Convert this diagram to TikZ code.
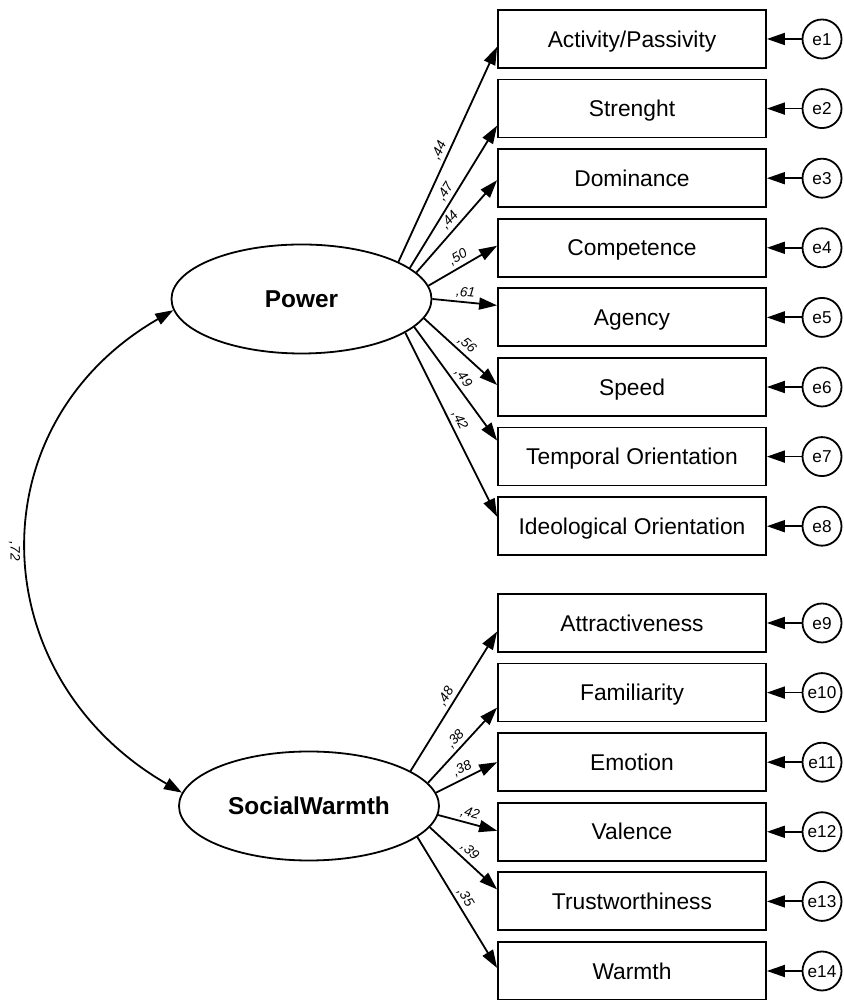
\documentclass[tikz,border=0pt]{standalone}
\usepackage{fontspec}
\setmainfont{Liberation Sans}
\usepackage{tikz}
\usetikzlibrary{shapes,arrows.meta}
\tikzstyle{block} = [rectangle, draw, line width=0.9pt, text height=8.2pt, text depth=0pt,
    minimum width=134pt, minimum height=29pt, inner sep=0pt, font=\fontsize{11.4}{13}\selectfont]
\tikzstyle{latent} = [ellipse, draw, line width=0.9pt, text height=8.7pt, text depth=0pt,
    minimum width=130pt, minimum height=54.5pt, inner sep=0pt, font=\bfseries\fontsize{12.2}{14}\selectfont]
\tikzstyle{err} = [circle, draw, line width=0.9pt, text height=6.2pt, text depth=0pt,
    minimum size=19.5pt, inner sep=0pt, font=\fontsize{8.6}{10}\selectfont]
\tikzstyle{line} = [draw, line width=0.9pt, -{Triangle[length=9pt,width=6pt]}]
\tikzstyle{coef} = [midway, sloped, above, inner sep=1.5pt, font=\itshape\fontsize{6.8}{8}\selectfont]

\begin{document}
\begin{tikzpicture}[x=0.5pt, y=0.5pt, node distance=34.8pt]
    \useasboundingbox (0,0) rectangle (843,1000);
    % Place nodes
    \node [latent] (pow) at (301.5,701) {Power};
    \node [latent] (warm) at (309,194) {SocialWarmth};
    \node [block] (act) at (632,961) {Activity/Passivity};
    \node [block, below of=act] (str) {Strenght};
    \node [block, below of=str] (dom) {Dominance};
    \node [block, below of=dom] (comp) {Competence};
    \node [block, below of=comp] (agen) {Agency};
    \node [block, below of=agen] (speed) {Speed};
    \node [block, below of=speed] (temp) {Temporal Orientation};
    \node [block, below of=temp] (ideo) {Ideological Orientation};
    \node [block] (attr) at (632,377) {Attractiveness};
    \node [block, below of=attr] (fam) {Familiarity};
    \node [block, below of=fam] (emo) {Emotion};
    \node [block, below of=emo] (val) {Valence};
    \node [block, below of=val] (trust) {Trustworthiness};
    \node [block, below of=trust] (warmth) {Warmth};
    % Error terms
    \node [err, right of=act, node distance=95pt] (e1) {e1};
    \node [err, right of=str, node distance=95pt] (e2) {e2};
    \node [err, right of=dom, node distance=95pt] (e3) {e3};
    \node [err, right of=comp, node distance=95pt] (e4) {e4};
    \node [err, right of=agen, node distance=95pt] (e5) {e5};
    \node [err, right of=speed, node distance=95pt] (e6) {e6};
    \node [err, right of=temp, node distance=95pt] (e7) {e7};
    \node [err, right of=ideo, node distance=95pt] (e8) {e8};
    \node [err, right of=attr, node distance=95pt] (e9) {e9};
    \node [err, right of=fam, node distance=95pt] (e10) {e10};
    \node [err, right of=emo, node distance=95pt] (e11) {e11};
    \node [err, right of=val, node distance=95pt] (e12) {e12};
    \node [err, right of=trust, node distance=95pt] (e13) {e13};
    \node [err, right of=warmth, node distance=95pt] (e14) {e14};
    % Draw edges
    \path [line] (pow.21) -- node [coef] {,44} ([yshift=-3.9pt]act.west);
    \path [line] (pow.16) -- node [coef] {,47} ([yshift=-8.5pt]str.west);
    \path [line] (pow.13) -- node [coef] {,44} ([yshift=-1pt]dom.west);
    \path [line] (pow.6) -- node [coef] {,50} ([yshift=1pt]comp.west);
    \path [line] (pow.0) -- node [coef] {,61} ([yshift=6pt]agen.west);
    \path [line] (pow.-9) -- node [coef] {,56} ([yshift=1pt]speed.west);
    \path [line] (pow.-14) -- node [coef] {,49} ([yshift=8pt]temp.west);
    \path [line] (pow.-18) -- node [coef] {,42} ([yshift=4.75pt]ideo.west);
    \path [line] (warm.19) -- node [coef] {,48} ([yshift=-4.3pt]attr.west);
    \path [line] (warm.11) -- node [coef] {,38} ([yshift=-7.5pt]fam.west);
    \path [line] (warm.6) -- node [coef] {,38} (emo.west);
    \path [line] (warm.-4) -- node [coef] {,42} ([yshift=0.5pt]val.west);
    \path [line] (warm.-10) -- node [coef] {,39} ([yshift=6pt]trust.west);
    \path [line] (warm.-16) -- node [coef] {,35} ([yshift=1.5pt]warmth.west);
    \path [line] (e1) -- (act);
    \path [line] (e2) -- (str);
    \path [line] (e3) -- (dom);
    \path [line] (e4) -- (comp);
    \path [line] (e5) -- (agen);
    \path [line] (e6) -- (speed);
    \path [line] (e7) -- (temp);
    \path [line] (e8) -- (ideo);
    \path [line] (e9) -- (attr);
    \path [line] (e10) -- (fam);
    \path [line] (e11) -- (emo);
    \path [line] (e12) -- (val);
    \path [line] (e13) -- (trust);
    \path [line] (e14) -- (warmth);
    \path [line, {Triangle[length=9pt,width=6pt]}-{Triangle[length=9pt,width=6pt]}] (pow.185) to [out=210, in=150, looseness=1.22]
        node [midway, rotate=-90, anchor=north, inner sep=3.5pt, font=\itshape\fontsize{6.8}{8}\selectfont] {,72} (warm.174);
\end{tikzpicture}
\end{document}
